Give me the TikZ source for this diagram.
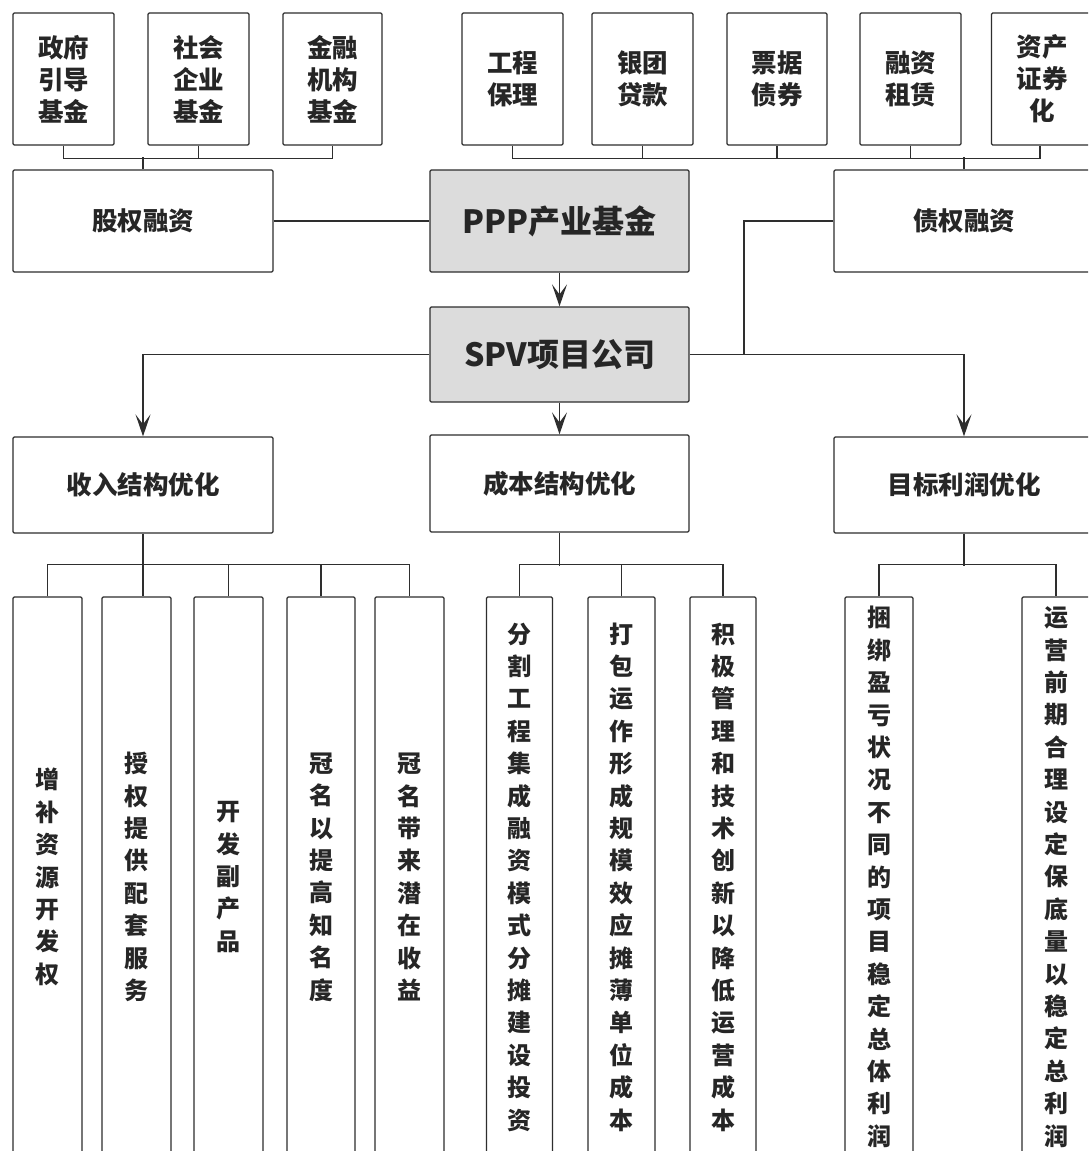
\documentclass[tikz,border=0pt]{standalone}
\usepackage{fontspec}
\setmainfont{Noto Sans CJK SC}
\usetikzlibrary{arrows.meta}
\definecolor{lc}{HTML}{2E2E2E}
\definecolor{tc}{HTML}{262626}
\definecolor{gfill}{HTML}{DCDCDC}
\begin{document}
\begin{tikzpicture}[x=1pt,y=-1pt,
  box/.style={draw=lc, line width=1.3pt, rounded corners=1.2pt, fill=white, text=tc,
    font=\bfseries\fontsize{25.5}{32}\selectfont, align=center, inner sep=0pt},
  gbox/.style={box, fill=gfill, font=\bfseries\fontsize{32}{36}\selectfont},
  vbox/.style={box, font=\bfseries\fontsize{24}{32.4}\selectfont, minimum height=560pt, text width=26pt},
  conn/.style={draw=lc, line width=1.3pt},
  arr/.style={conn, -{Stealth[length=22pt,width=15pt,inset=10pt]}}]
\useasboundingbox (0,0) rectangle (1088,1151);
\clip (0,0) rectangle (1088,1151);
\fill[white] (0,0) rectangle (1088,1151);
% top row
\node[box, minimum width=101pt, minimum height=132pt] (gov) at (63.5,79) {政府\\引导\\基金};
\node[box, minimum width=101pt, minimum height=132pt] (soc) at (198.5,79) {社会\\企业\\基金};
\node[box, minimum width=99pt, minimum height=132pt] (fin) at (332.5,79) {金融\\机构\\基金};
\node[box, minimum width=101pt, minimum height=132pt] (eng) at (512.5,79) {工程\\保理};
\node[box, minimum width=101pt, minimum height=132pt] (bank) at (642.5,79) {银团\\贷款};
\node[box, minimum width=100pt, minimum height=132pt] (bill) at (777,79) {票据\\债券};
\node[box, minimum width=101pt, minimum height=132pt] (lease) at (910.5,79) {融资\\租赁};
\node[box, minimum width=101pt, minimum height=132pt] (abs) at (1042,79) {资产\\证券\\化};
% second row
\node[box, minimum width=260pt, minimum height=102pt] (equity) at (143,221) {股权融资};
\node[gbox, minimum width=259pt, minimum height=102pt] (ppp) at (559.5,221) {PPP产业基金};
\node[box, minimum width=260pt, minimum height=102pt] (debt) at (964,221) {债权融资};
% SPV
\node[gbox, minimum width=259pt, minimum height=95pt] (spv) at (559.5,354.5) {SPV项目公司};
% third row
\node[box, minimum width=260pt, minimum height=96pt] (rev) at (143,485) {收入结构优化};
\node[box, minimum width=259pt, minimum height=97pt] (cost) at (559.5,483.5) {成本结构优化};
\node[box, minimum width=260pt, minimum height=96pt] (prof) at (964,485) {目标利润优化};
% bottom row
\node[vbox, minimum width=69pt] (r1) at (47.5,877) {增\\补\\资\\源\\开\\发\\权};
\node[vbox, minimum width=69pt] (r2) at (136.5,877) {授\\权\\提\\供\\配\\套\\服\\务};
\node[vbox, minimum width=69pt] (r3) at (228.5,877) {开\\发\\副\\产\\品};
\node[vbox, minimum width=68pt] (r4) at (321,877) {冠\\名\\以\\提\\高\\知\\名\\度};
\node[vbox, minimum width=69pt] (r5) at (409.5,877) {冠\\名\\带\\来\\潜\\在\\收\\益};
\node[vbox, minimum width=66pt] (c1) at (519.5,877) {分\\割\\工\\程\\集\\成\\融\\资\\模\\式\\分\\摊\\建\\设\\投\\资};
\node[vbox, minimum width=67pt] (c2) at (621.5,877) {打\\包\\运\\作\\形\\成\\规\\模\\效\\应\\摊\\薄\\单\\位\\成\\本};
\node[vbox, minimum width=66pt] (c3) at (723,877) {积\\极\\管\\理\\和\\技\\术\\创\\新\\以\\降\\低\\运\\营\\成\\本};
\node[vbox, minimum width=68pt] (p1) at (879,877) {捆\\绑\\盈\\亏\\状\\况\\不\\同\\的\\项\\目\\稳\\定\\总\\体\\利\\润};
\node[vbox, minimum width=68pt] (p2) at (1056,877) {运\\营\\前\\期\\合\\理\\设\\定\\保\\底\\量\\以\\稳\\定\\总\\利\\润};
% connectors top-left
\draw[conn] (gov.south) -- ++(0,13) -| (fin.south);
\draw[conn] (soc.south) -- ++(0,13);
\draw[conn] (equity.north) -- ++(0,-12);
% connectors top-right
\draw[conn] (eng.south) -- ++(0,13) -| ([xshift=-2pt]abs.south);
\draw[conn] (bank.south) -- ++(0,13);
\draw[conn] (bill.south) -- ++(0,13);
\draw[conn] (lease.south) -- ++(0,13);
\draw[conn] (debt.north) -- ++(0,-12);
% middle
\draw[conn] (equity.east) -- (ppp.west);
\draw[arr] (ppp.south) -- (spv.north);
\coordinate (j) at (744,354.5);
\draw[conn] (debt.west) -| (j);
\draw[arr] (spv.west) -| (rev.north);
\draw[arr] (spv.south) -- (cost.north);
\draw[arr] (spv.east) -| (prof.north);
% bottom buses
\draw[conn] (rev.south) -- (rev.south |- r2.north);
\draw[conn] (r1.north) -- ++(0,-32) -| (r5.north);
\draw[conn] (r3.north) -- ++(0,-32);
\draw[conn] (r4.north) -- ++(0,-32);
\draw[conn] (cost.south) -- ++(0,33);
\draw[conn] (c1.north) -- ++(0,-32) -| (c3.north);
\draw[conn] (c2.north) -- ++(0,-32);
\draw[conn] (prof.south) -- ++(0,32);
\draw[conn] (p1.north) -- ++(0,-32) -| (p2.north);
\end{tikzpicture}
\end{document}
